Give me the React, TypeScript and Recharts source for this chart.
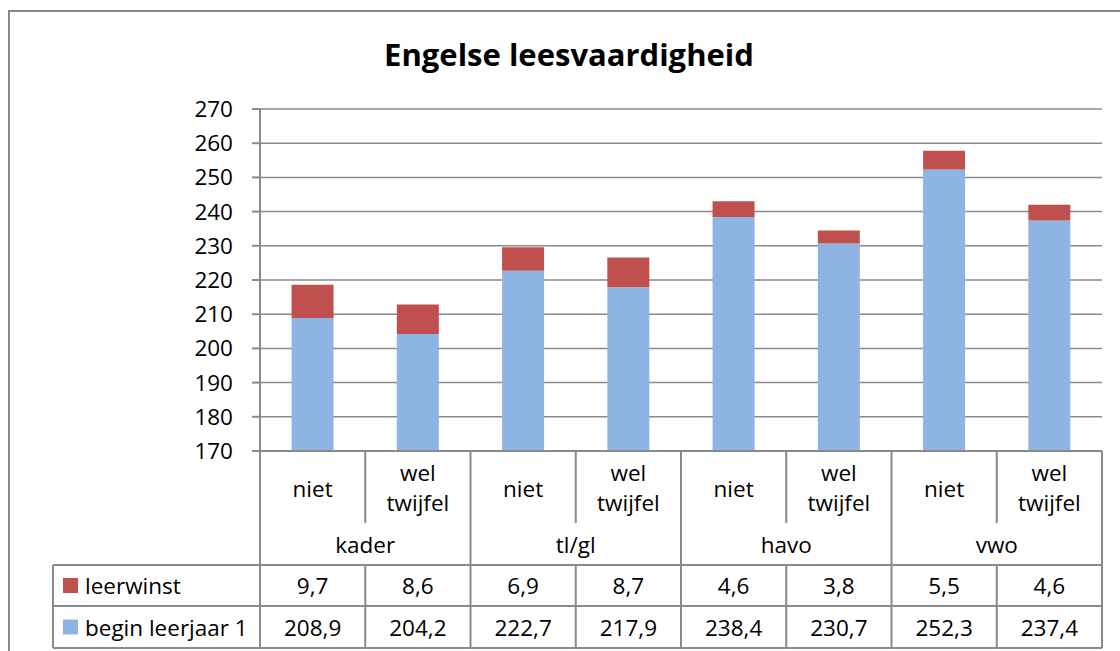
import React from 'react';
import { BarChart, Bar, XAxis, YAxis, CartesianGrid } from 'recharts';

const title = 'Engelse leesvaardigheid';
const subCategories = ['niet', 'wel twijfel', 'niet', 'wel twijfel', 'niet', 'wel twijfel', 'niet', 'wel twijfel'];
const groups = ['kader', 'tl/gl', 'havo', 'vwo'];
const beginLeerjaar1 = [208.9, 204.2, 222.7, 217.9, 238.4, 230.7, 252.3, 237.4];
const leerwinst = [9.7, 8.6, 6.9, 8.7, 4.6, 3.8, 5.5, 4.6];
const yTicks = [170, 180, 190, 200, 210, 220, 230, 240, 250, 260, 270];
const seriesNames = { begin: 'begin leerjaar 1', winst: 'leerwinst' };

const data = subCategories.map((c, i) => ({
  key: String(i),
  sub: c,
  group: groups[Math.floor(i / 2)],
  begin: beginLeerjaar1[i],
  winst: leerwinst[i],
}));

const W = 1120;
const H = 651;
const PLOT_LEFT = 260;
const PLOT_RIGHT = 1102;
const PLOT_TOP = 109;
const PLOT_BOTTOM = 451;
const BAND = (PLOT_RIGHT - PLOT_LEFT) / subCategories.length;
const TABLE_LEFT = 53;
const ROW_CAT = 72;
const ROW_GROUP = 114;
const ROW_1 = 155;
const ROW_2 = 197;
const LINE = '#8a8a8a';
const BLUE = '#8EB4E3';
const RED = '#C0504D';
const FONT = '"Open Sans", sans-serif';
const FS = 22.5;

const fmt = (v: number) => v.toFixed(1).replace('.', ',');

const TableTick = (props: any) => {
  const { x, payload, index } = props;
  const y = PLOT_BOTTOM;
  const i = typeof index === 'number' ? index : Number(payload.value);
  const d = data[i];
  if (!d) return null;
  const left = x - BAND / 2;
  const right = x + BAND / 2;
  const isGroupEnd = i % 2 === 1;
  const lines = d.sub.split(' ');
  const txt = (tx: number, ty: number, s: string, anchor: any = 'middle') => (
    <text x={tx} y={ty} textAnchor={anchor} dominantBaseline="central" fontFamily={FONT} fontSize={FS} fill="#000">
      {s}
    </text>
  );
  return (
    <g>
      {i === 0 && (
        <g>
          <line x1={left} y1={y} x2={left} y2={y + ROW_2} stroke={LINE} strokeWidth={2} />
          <line x1={TABLE_LEFT} y1={y + ROW_GROUP} x2={left} y2={y + ROW_GROUP} stroke={LINE} strokeWidth={2} />
          <line x1={TABLE_LEFT} y1={y + ROW_1} x2={left} y2={y + ROW_1} stroke={LINE} strokeWidth={2} />
          <line x1={TABLE_LEFT} y1={y + ROW_2} x2={left} y2={y + ROW_2} stroke={LINE} strokeWidth={2} />
          <line x1={TABLE_LEFT} y1={y + ROW_GROUP} x2={TABLE_LEFT} y2={y + ROW_2} stroke={LINE} strokeWidth={2} />
          <rect x={63} y={y + (ROW_GROUP + ROW_1) / 2 - 7.5} width={15} height={15} fill={RED} />
          {txt(85, y + (ROW_GROUP + ROW_1) / 2, seriesNames.winst, 'start')}
          <rect x={63} y={y + (ROW_1 + ROW_2) / 2 - 7.5} width={15} height={15} fill={BLUE} />
          {txt(85, y + (ROW_1 + ROW_2) / 2, seriesNames.begin, 'start')}
        </g>
      )}
      {isGroupEnd ? (
        <line x1={right} y1={y} x2={right} y2={y + ROW_2} stroke={LINE} strokeWidth={2} />
      ) : (
        <g>
          <line x1={right} y1={y} x2={right} y2={y + ROW_CAT} stroke={LINE} strokeWidth={2} />
          <line x1={right} y1={y + ROW_GROUP} x2={right} y2={y + ROW_2} stroke={LINE} strokeWidth={2} />
        </g>
      )}
      <line x1={left} y1={y + ROW_GROUP} x2={right} y2={y + ROW_GROUP} stroke={LINE} strokeWidth={2} />
      <line x1={left} y1={y + ROW_1} x2={right} y2={y + ROW_1} stroke={LINE} strokeWidth={2} />
      <line x1={left} y1={y + ROW_2} x2={right} y2={y + ROW_2} stroke={LINE} strokeWidth={2} />
      {lines.length === 1
        ? txt(x, y + 37, lines[0])
        : (
          <g>
            {txt(x, y + 21, lines[0])}
            {txt(x, y + 51, lines[1])}
          </g>
        )}
      {i % 2 === 0 && txt(right, y + (ROW_CAT + ROW_GROUP) / 2, d.group)}
      {txt(x, y + (ROW_GROUP + ROW_1) / 2, fmt(d.winst))}
      {txt(x, y + (ROW_1 + ROW_2) / 2, fmt(d.begin))}
    </g>
  );
};

export default function App() {
  return (
    <div style={{ position: 'absolute', left: 0, top: 0, width: W, height: H, background: '#fff', overflow: 'hidden' }}>
      <div
        style={{
          position: 'absolute',
          left: 8,
          top: 10,
          width: W,
          height: H,
          borderLeft: `2px solid ${LINE}`,
          borderTop: `2px solid ${LINE}`,
          boxSizing: 'border-box',
        }}
      />
      <div
        style={{
          position: 'absolute',
          left: 0,
          top: 32,
          width: 1138,
          textAlign: 'center',
          fontFamily: FONT,
          fontWeight: 700,
          fontSize: 31,
          lineHeight: '44px',
          color: '#000',
        }}
      >
        {title}
      </div>
      <div style={{ position: 'absolute', left: 0, top: 0 }}>
        <BarChart
          width={W}
          height={H}
          data={data}
          margin={{ top: PLOT_TOP, right: W - PLOT_RIGHT, bottom: H - PLOT_BOTTOM - 1, left: PLOT_LEFT - 60 }}
          barCategoryGap="30%"
        >
          <CartesianGrid vertical={false} stroke={LINE} strokeWidth={1.5} />
          <XAxis
            dataKey="key"
            height={1}
            axisLine={{ stroke: LINE, strokeWidth: 2 }}
            tickLine={false}
            tickSize={0}
            tickMargin={0}
            interval={0}
            tick={<TableTick />}
          />
          <YAxis
            width={60}
            domain={[170, 270]}
            ticks={yTicks}
            allowDataOverflow
            axisLine={{ stroke: LINE, strokeWidth: 2 }}
            tickLine={{ stroke: LINE, strokeWidth: 2 }}
            tickSize={8}
            tickMargin={19}
            tick={{ fontFamily: FONT, fontSize: FS, fill: '#000' }}
          />
          <Bar dataKey="begin" stackId="a" fill={BLUE} isAnimationActive={false} />
          <Bar dataKey="winst" stackId="a" fill={RED} isAnimationActive={false} />
        </BarChart>
      </div>
    </div>
  );
}
